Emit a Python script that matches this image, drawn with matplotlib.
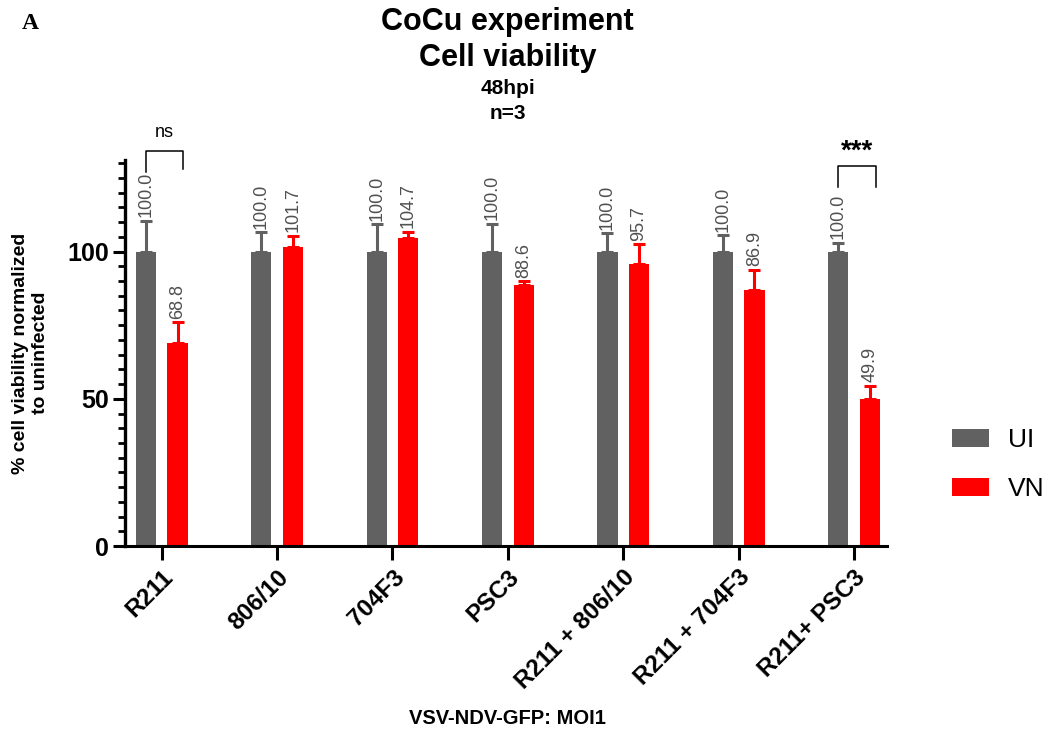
import numpy as np
import matplotlib.pyplot as plt
from matplotlib.ticker import MultipleLocator

plt.rcParams["font.family"] = ["Liberation Sans", "DejaVu Sans"]

# Data
groups = ["R211", "806/10", "704F3", "PSC3", "R211 + 806/10", "R211 + 704F3", "R211+ PSC3"]
ui_mean = [100.0, 100.0, 100.0, 100.0, 100.0, 100.0, 100.0]
ui_err = [10.5, 6.5, 9.2, 9.5, 6.2, 5.6, 3.0]
vn_mean = [68.8, 101.7, 104.7, 88.6, 95.7, 86.9, 49.9]
vn_err = [7.2, 3.7, 2.0, 1.3, 6.8, 7.0, 4.5]

grey = "#616161"
red = "#ff0000"

fig = plt.figure(figsize=(10.49, 7.35), dpi=100)
ax = fig.add_axes([0.119, 0.257, 0.727, 0.525])

x = np.arange(len(groups))
w = 0.175
off = 0.137

ekw = dict(elinewidth=2.2, capsize=4.5, capthick=2.2)
ax.bar(x - off, ui_mean, w, color=grey, label="UI",
       yerr=[np.zeros(len(x)), ui_err], error_kw=dict(ecolor=grey, **ekw))
ax.bar(x + off, vn_mean, w, color=red, label="VN",
       yerr=[np.zeros(len(x)), vn_err], error_kw=dict(ecolor=red, **ekw))

# value labels above error bars
for i in range(len(x)):
    ax.text(x[i] - off, ui_mean[i] + ui_err[i] + 1.2, f"{ui_mean[i]:.1f}", rotation=90,
            ha="center", va="bottom", fontsize=13, color="#505050")
    ax.text(x[i] + off, vn_mean[i] + vn_err[i] + 1.2, f"{vn_mean[i]:.1f}", rotation=90,
            ha="center", va="bottom", fontsize=13, color="#505050")

# significance brackets
def bracket(x0, x1, y_top, y_left, y_right, label, size, weight, gap):
    ax.plot([x0, x0, x1, x1], [y_left, y_top, y_top, y_right], color="black", lw=1.1, clip_on=False)
    ax.text((x0 + x1) / 2, y_top + gap, label, ha="center", va="bottom", fontsize=size,
            fontweight=weight)

bracket(x[0] - off, x[0] + off + 0.05, 134, 127, 128, "ns", 13, "normal", 3.5)
bracket(x[6] - off, x[6] + off + 0.05, 129, 122, 122, "***", 20, "bold", 0.5)

ax.set_xlim(-0.32, 6.29)
ax.set_ylim(0, 131)
ax.yaxis.set_major_locator(MultipleLocator(50))
ax.yaxis.set_minor_locator(MultipleLocator(5))
ax.set_xticks(x)
ax.set_xticklabels(groups, rotation=45, ha="right", rotation_mode="anchor",
                   fontsize=17.5, fontweight="bold")
for lab in ax.get_yticklabels():
    lab.set_fontweight("bold")
ax.tick_params(axis="y", which="major", labelsize=18, width=2.2, length=8.6, pad=3)
ax.tick_params(axis="y", which="minor", width=2.0, length=5)
ax.tick_params(axis="x", width=2.2, length=10, pad=4)

for s in ["top", "right"]:
    ax.spines[s].set_visible(False)
ax.spines["left"].set_linewidth(2.4)
ax.spines["bottom"].set_linewidth(2.2)

ax.set_ylabel("% cell viability normalized\nto uninfected", fontsize=14, fontweight="bold")
ax.yaxis.set_label_coords(-0.100, 0.5)

fig.text(0.484, 0.970, "CoCu experiment", ha="center", va="center", fontsize=22, fontweight="bold")
fig.text(0.484, 0.921, "Cell viability", ha="center", va="center", fontsize=22, fontweight="bold")
fig.text(0.484, 0.880, "48hpi", ha="center", va="center", fontsize=15, fontweight="bold")
fig.text(0.484, 0.846, "n=3", ha="center", va="center", fontsize=15, fontweight="bold")
fig.text(0.484, 0.023, "VSV-NDV-GFP: MOI1", ha="center", va="center", fontsize=14.5, fontweight="bold")
fig.text(0.021, 0.968, "A", ha="left", va="center", fontsize=17, fontweight="bold",
         family="Liberation Serif")

leg = fig.legend(loc="center left", bbox_to_anchor=(0.908, 0.368), frameon=False,
                 fontsize=19, handlelength=1.4, handleheight=0.65, handletextpad=0.7,
                 labelspacing=0.95, borderaxespad=0, borderpad=0)

fig.savefig("out.png", dpi=100)
